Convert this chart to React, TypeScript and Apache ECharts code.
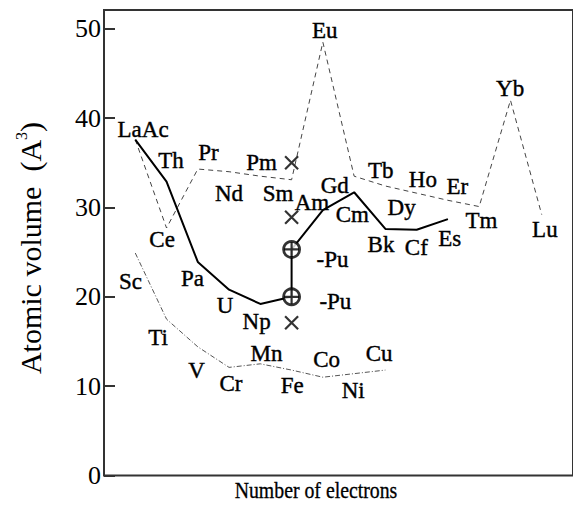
import React, { useEffect, useRef } from "react";
import * as echarts from "echarts";

const FONT = "Liberation Serif";

// Lanthanide series (dashed)
const lanthanideX = [1, 2, 3, 4, 5, 6, 7, 8, 9, 10, 11, 12, 13, 14];
const lanthanideY = [37.6, 27.7, 34.3, 34.0, 33.5, 33.1, 48.5, 33.5, 32.4, 31.6, 30.8, 30.1, 42.0, 29.2];

// Actinide series (solid)
const actinideX = [1, 2, 3, 4, 5, 6, 6, 7, 8, 9, 10, 11];
const actinideY = [37.6, 32.9, 23.9, 20.8, 19.2, 20.0, 25.3, 29.7, 31.7, 27.6, 27.5, 28.7];

// 3d transition metals (dash-dot)
const transitionX = [1, 2, 3, 4, 5, 6, 7, 8, 9];
const transitionY = [24.9, 17.5, 14.4, 12.1, 12.5, 11.8, 11.0, 11.4, 11.8];

// × markers
const crossX = [6, 6, 6];
const crossY = [35.0, 28.9, 17.1];

// ⊕ markers (Pu phases)
const puX = [6, 6];
const puY = [20.0, 25.3];

// Element labels (anchor in data coordinates)
const labelNames = [
  "LaAc", "Th", "Ce", "Pr", "Nd", "Pm", "Sm", "Eu", "Am", "Gd", "Cm", "Tb", "Dy", "Ho", "Er",
  "Tm", "Yb", "Lu", "Bk", "Cf", "Es", "-Pu", "-Pu", "Pa", "U", "Np",
  "Sc", "Ti", "V", "Cr", "Mn", "Fe", "Co", "Ni", "Cu",
];
const labelX = [
  1.25, 2.14, 1.86, 3.34, 4.0, 5.04, 5.57, 7.06, 6.65, 7.38, 7.94, 8.85, 9.52, 10.2, 11.3,
  12.07, 12.99, 14.1, 8.86, 9.99, 11.06, 7.31, 7.4, 2.83, 3.87, 4.88,
  0.85, 1.73, 2.96, 4.06, 5.2, 6.02, 7.12, 7.97, 8.8,
];
const labelY = [
  38.7, 35.3, 26.4, 36.2, 31.6, 35.0, 31.6, 49.8, 30.6, 32.5, 29.2, 34.1, 30.0, 33.1, 32.4,
  28.5, 43.3, 27.5, 25.8, 25.5, 26.5, 24.2, 19.5, 22.0, 19.0, 17.2,
  21.7, 15.5, 11.7, 10.3, 13.7, 10.1, 13.0, 9.5, 13.7,
];

const yTicks = [0, 10, 20, 30, 40, 50];
const xTitle = "Number of electrons";
const yTitle = "Atomic volume  (A";
const ySup = "3";

const pairs = (xs: number[], ys: number[]) => xs.map((x, i) => [x, ys[i]]);

export default function App() {
  const ref = useRef<HTMLDivElement>(null);

  useEffect(() => {
    if (!ref.current) return;
    const chart = echarts.init(ref.current, null, { renderer: "svg" });
    chart.setOption({
      animation: false,
      backgroundColor: "#fff",
      textStyle: { fontFamily: FONT },
      grid: {
        left: 104,
        top: 10,
        right: -7,
        bottom: 38.5,
        show: true,
        borderColor: "#333",
        borderWidth: 2,
        backgroundColor: "transparent",
      },
      xAxis: {
        type: "value",
        min: 0,
        max: 15,
        axisLine: { show: false },
        axisTick: { show: false },
        axisLabel: { show: false },
        splitLine: { show: false },
      },
      yAxis: {
        type: "value",
        min: 0,
        max: 52.1,
        interval: 10,
        axisLine: { show: false },
        axisTick: { show: true, inside: true, length: 11, lineStyle: { color: "#333", width: 2 } },
        axisLabel: {
          fontSize: 26,
          fontFamily: FONT,
          color: "#000",
          margin: 3,
          formatter: (v: number) => (yTicks.includes(v) ? String(v) : ""),
        },
        splitLine: { show: false },
      },
      graphic: [
        {
          type: "text",
          x: 316,
          y: 490,
          scaleX: 0.9,
          scaleY: 1.05,
          style: {
            text: xTitle,
            fontSize: 22,
            fontFamily: FONT,
            fill: "#000",
            stroke: "#000",
            lineWidth: 0.3,
            align: "center",
            verticalAlign: "middle",
          },
        },
        {
          type: "text",
          x: 29,
          y: 248,
          rotation: Math.PI / 2,
          style: {
            text: "{n|" + yTitle + "}{s|" + ySup + "}{n|)}",
            fontFamily: FONT,
            fill: "#000",
            align: "center",
            verticalAlign: "middle",
            rich: {
              n: { fontSize: 30, lineHeight: 32, verticalAlign: "bottom", fontFamily: FONT, fill: "#000" },
              s: { fontSize: 16, lineHeight: 17, verticalAlign: "top", padding: [0, 0, 25, 0], fontFamily: FONT, fill: "#000" },
            },
          },
        },
      ],
      series: [
        {
          name: "Lanthanides",
          type: "line",
          data: pairs(lanthanideX, lanthanideY),
          symbol: "none",
          silent: true,
          z: 2,
          lineStyle: { color: "#444", width: 1, type: [5, 4] },
        },
        {
          name: "Actinides",
          type: "line",
          data: pairs(actinideX, actinideY),
          symbol: "none",
          silent: true,
          z: 3,
          lineStyle: { color: "#000", width: 2 },
        },
        {
          name: "3d metals",
          type: "line",
          data: pairs(transitionX, transitionY),
          symbol: "none",
          silent: true,
          z: 2,
          lineStyle: { color: "#555", width: 1, type: [5, 2, 1, 2] },
        },
        {
          name: "cross",
          type: "scatter",
          data: pairs(crossX, crossY),
          symbol: "path://M0,0L10,10M10,0L0,10",
          symbolSize: 13,
          silent: true,
          z: 4,
          itemStyle: { color: "transparent", borderColor: "#000", borderWidth: 2.2 },
        },
        {
          name: "Pu circle",
          type: "scatter",
          data: pairs(puX, puY),
          symbol: "circle",
          symbolSize: 16,
          silent: true,
          z: 5,
          itemStyle: { color: "#fff", borderColor: "#000", borderWidth: 2.8 },
        },
        {
          name: "Pu plus",
          type: "scatter",
          data: pairs(puX, puY),
          symbol: "path://M5,0L5,10M0,5L10,5",
          symbolSize: 15,
          silent: true,
          z: 6,
          itemStyle: { color: "transparent", borderColor: "#000", borderWidth: 2.2 },
        },
        {
          name: "labels",
          type: "scatter",
          data: labelNames.map((n, i) => ({ name: n, value: [labelX[i], labelY[i]] })),
          symbolSize: 1,
          silent: true,
          z: 7,
          itemStyle: { color: "rgba(0,0,0,0)" },
          label: {
            show: true,
            position: "inside",
            formatter: "{b}",
            fontSize: 23,
            fontFamily: FONT,
            color: "#000",
            textBorderWidth: 0.4,
            textBorderColor: "#000",
            opacity: 1,
          },
        },
      ],
    });
    return () => chart.dispose();
  }, []);

  return (
    <div
      ref={ref}
      style={{ position: "fixed", left: 0, top: 0, width: 573, height: 514, background: "#fff" }}
    />
  );
}
